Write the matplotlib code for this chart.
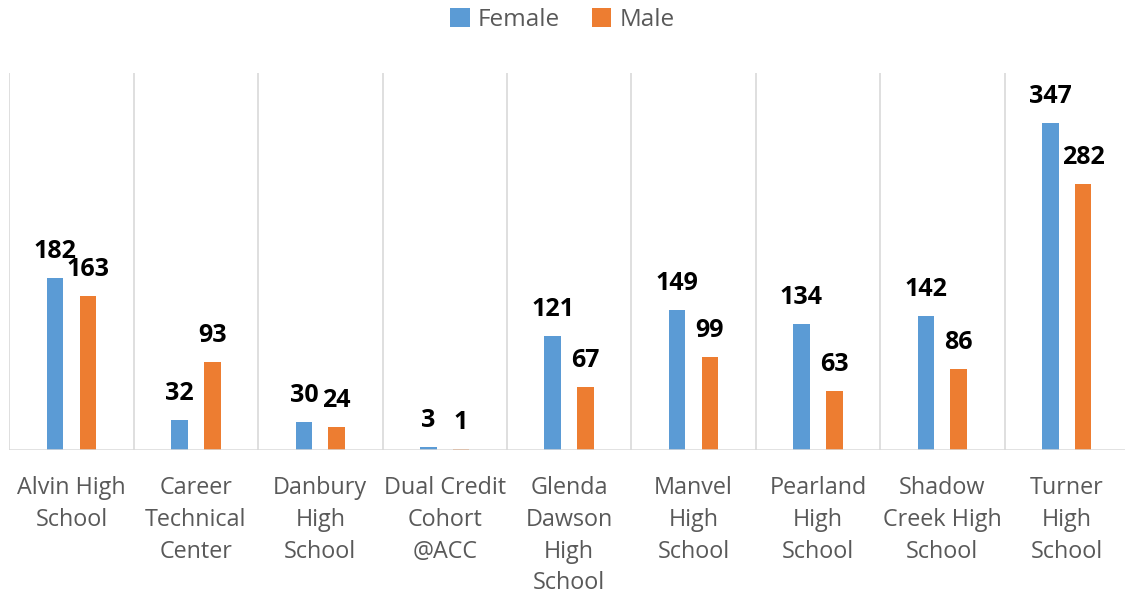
import matplotlib.pyplot as plt
import numpy as np

schools = ['Alvin High\nSchool', 'Career\nTechnical\nCenter', 'Danbury\nHigh\nSchool',
           'Dual Credit\nCohort\n@ACC', 'Glenda\nDawson\nHigh\nSchool', 'Manvel\nHigh\nSchool',
           'Pearland\nHigh\nSchool', 'Shadow\nCreek High\nSchool', 'Turner\nHigh\nSchool']
female = [182, 32, 30, 3, 121, 149, 134, 142, 347]
male = [163, 93, 24, 1, 67, 99, 63, 86, 282]

plt.rcParams['font.family'] = ['Open Sans', 'DejaVu Sans']

W, H = 1125, 597
fig = plt.figure(figsize=(W / 100, H / 100), dpi=100)
ax = fig.add_axes([9.3 / W, (H - 450) / H, 1119.6 / W, 377 / H])

x = np.arange(len(schools))
bw = 0.134
off = 0.132
b1 = ax.bar(x - off, female, bw, color='#5B9BD5', label='Female')
b2 = ax.bar(x + off, male, bw, color='#ED7D31', label='Male')

for bars in (b1, b2):
    for b in bars:
        ax.annotate(f'{int(b.get_height())}', (b.get_x() + b.get_width() / 2, b.get_height()),
                    xytext=(0, 20), textcoords='offset pixels', ha='center', va='baseline',
                    fontsize=18, fontweight='bold', color='black')

ax.set_xlim(-0.5, len(schools) - 0.5)
ax.set_ylim(0, 400)
for k in range(len(schools) + 1):
    ax.axvline(k - 0.5, color='#D9D9D9', lw=1.2, zorder=0)
for s in ax.spines.values():
    s.set_visible(False)
ax.axhline(0, color='#D9D9D9', lw=1.8, zorder=3)
ax.set_yticks([])
ax.set_xticks(x)
ax.set_xticklabels(schools, fontsize=16.8, color='#595959', linespacing=1.42)
ax.tick_params(axis='x', length=0, pad=19)

fig.legend(handles=[b1, b2], loc='center', bbox_to_anchor=(0.5, 1 - 20 / H), ncol=2,
           frameon=False, fontsize=17.5, labelcolor='#595959', handlelength=0.8,
           handleheight=0.8, handletextpad=0.35, columnspacing=1.3)

fig.savefig('out.png', dpi=100)
